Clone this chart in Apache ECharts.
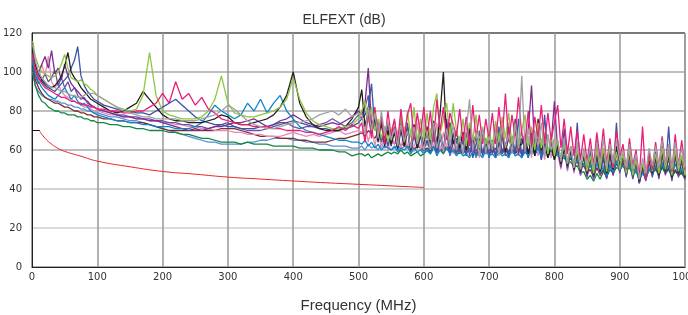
<!DOCTYPE html>
<html>
<head>
<meta charset="utf-8">
<script src="https://cdn.jsdelivr.net/npm/echarts@6/dist/echarts.min.js"></script>
<style>
  html, body { margin: 0; padding: 0; background: #fff; }
  #chart { width: 688px; height: 315px; }
</style>
</head>
<body>
<div id="chart"></div>
<script>
// 频率采样点 (MHz)
const freq = [
  1, 3, 5, 10, 15, 20, 25, 30, 35, 40, 45, 50, 55, 60, 65, 70, 75, 80, 85, 90, 95, 100,
  110, 120, 130, 140, 150, 160, 170, 180, 190, 200,
  210, 220, 230, 240, 250, 260, 270, 280, 290, 300,
  310, 320, 330, 340, 350, 360, 370, 380, 390, 400,
  410, 420, 430, 440, 450, 460, 470, 480, 490, 500,
  505, 510, 515, 520, 525, 530, 535, 540, 545, 550,
  555, 560, 565, 570, 575, 580, 585, 590, 595, 600,
  605, 610, 615, 620, 625, 630, 635, 640, 645, 650,
  655, 660, 665, 670, 675, 680, 685, 690, 695, 700,
  705, 710, 715, 720, 725, 730, 735, 740, 745, 750,
  755, 760, 765, 770, 775, 780, 785, 790, 795, 800,
  805, 810, 815, 820, 825, 830, 835, 840, 845, 850,
  855, 860, 865, 870, 875, 880, 885, 890, 895, 900,
  905, 910, 915, 920, 925, 930, 935, 940, 945, 950,
  955, 960, 965, 970, 975, 980, 985, 990, 995, 1000
];

const steelBlue = [
  100, 96, 93, 90, 88, 87, 86, 86, 85, 85, 84, 84, 83, 83, 82, 82, 81, 81, 80, 80, 79, 79,
  78, 77, 77, 76, 75, 75, 74, 73, 72, 71,
  70, 69, 68, 67, 66, 65, 64, 64, 63, 63,
  63, 63, 64, 64, 65, 65, 66, 66, 66, 65,
  65, 64, 64, 63, 63, 62, 62, 62, 61, 61,
  62, 60, 63, 61, 62, 60, 63, 61, 62, 60,
  61, 63, 60, 62, 61, 63, 60, 62, 61, 59,
  61, 60, 62, 59, 61, 60, 62, 60, 61, 59,
  60, 58, 61, 59, 60, 58, 61, 59, 60, 58,
  60, 58, 61, 59, 62, 58, 60, 59, 61, 58,
  60, 59, 61, 58, 60, 59, 61, 58, 59, 57,
  58, 56, 57, 55, 56, 53, 55, 52, 53, 50,
  52, 49, 53, 50, 52, 48, 53, 50, 55, 51,
  53, 50, 54, 48, 51, 46, 49, 47, 51, 49,
  52, 49, 54, 50, 52, 48, 53, 49, 51, 48
];
const darkGreen = [
  102, 97, 93, 88, 85, 84, 82, 81, 80, 80, 79, 79, 78, 78, 78, 77, 77, 76, 76, 75, 75, 74,
  74, 73, 73, 72, 72, 71, 71, 70, 70, 70,
  69, 69, 68, 68, 67, 66, 66, 65, 64, 64,
  64, 63, 64, 63, 63, 63, 62, 62, 62, 62,
  61, 61, 61, 60, 60, 60, 59, 59, 57, 58,
  58, 57, 58, 56, 57, 58, 57, 58, 59, 58,
  59, 58, 60, 58, 59, 57, 58, 59, 57, 58,
  60, 58, 61, 59, 60, 58, 61, 59, 60, 58,
  59, 60, 58, 61, 59, 60, 58, 60, 59, 58,
  60, 58, 61, 59, 60, 58, 61, 59, 60, 58,
  59, 60, 58, 61, 59, 60, 58, 59, 57, 58,
  57, 55, 56, 53, 54, 51, 52, 48, 49, 45,
  47, 44, 48, 45, 49, 46, 50, 48, 51, 50,
  52, 49, 51, 47, 49, 45, 48, 46, 50, 48,
  50, 47, 51, 48, 50, 46, 49, 47, 48, 45
];
const brown = [
  104, 100, 96, 92, 89, 87, 86, 85, 84, 84, 83, 82, 82, 81, 80, 80, 79, 79, 78, 78, 77, 77,
  76, 76, 75, 75, 74, 74, 74, 73, 72, 71,
  70, 70, 70, 70, 71, 70, 70, 70, 71, 71,
  71, 70, 69, 68, 67, 67, 67, 66, 66, 66,
  65, 65, 64, 64, 64, 65, 66, 66, 67, 68,
  69, 67, 70, 68, 66, 69, 65, 67, 64, 66,
  63, 65, 62, 64, 61, 63, 60, 62, 61, 60,
  61, 59, 62, 60, 61, 59, 62, 60, 61, 59,
  60, 58, 61, 59, 60, 58, 59, 60, 58, 60,
  59, 61, 58, 60, 62, 59, 61, 58, 60, 59,
  61, 59, 62, 60, 58, 61, 59, 60, 58, 57,
  58, 56, 57, 54, 56, 52, 54, 50, 52, 48,
  50, 46, 51, 47, 50, 46, 52, 48, 53, 50,
  53, 50, 52, 48, 50, 46, 49, 45, 50, 48,
  51, 47, 52, 48, 51, 46, 50, 47, 49, 46
];
const lightPink = [
  108, 104, 100, 96, 104, 98, 108, 95, 92, 94, 90, 88, 87, 86, 85, 84, 83, 82, 82, 81, 80, 80,
  79, 78, 78, 77, 77, 76, 76, 75, 75, 74,
  74, 73, 73, 72, 72, 71, 71, 70, 70, 70,
  69, 69, 68, 68, 68, 67, 67, 67, 68, 69,
  68, 67, 68, 67, 68, 69, 70, 68, 69, 70,
  69, 73, 64, 72, 62, 70, 61, 71, 60, 68,
  63, 70, 60, 72, 61, 69, 59, 74, 60, 68,
  62, 71, 60, 74, 59, 69, 61, 72, 58, 70,
  60, 68, 57, 71, 59, 67, 56, 70, 58, 66,
  59, 72, 57, 69, 60, 74, 58, 68, 57, 70,
  58, 67, 56, 70, 57, 66, 55, 68, 56, 65,
  58, 50, 62, 49, 60, 48, 58, 47, 57, 46,
  55, 45, 57, 47, 58, 46, 57, 48, 60, 49,
  56, 47, 58, 46, 54, 43, 52, 45, 56, 48,
  57, 46, 59, 48, 57, 45, 58, 47, 55, 45
];
const violet = [
  105, 101, 98, 94, 96, 99, 95, 97, 101, 93, 97, 92, 95, 90, 92, 88, 86, 87, 84, 83, 82, 81,
  80, 79, 78, 78, 77, 77, 76, 76, 75, 75,
  74, 74, 73, 73, 72, 72, 71, 72, 73, 74,
  72, 71, 70, 70, 70, 71, 72, 73, 74, 72,
  71, 72, 72, 73, 74, 76, 74, 72, 74, 78,
  76, 82, 88, 70, 78, 65, 75, 63, 74, 62,
  71, 60, 74, 62, 72, 59, 70, 63, 69, 61,
  69, 60, 72, 59, 70, 58, 73, 60, 69, 58,
  66, 58, 69, 57, 67, 56, 70, 58, 66, 57,
  65, 57, 68, 58, 64, 56, 67, 59, 66, 57,
  64, 56, 67, 57, 65, 55, 63, 56, 66, 55,
  60, 51, 62, 50, 59, 49, 58, 47, 57, 46,
  55, 45, 57, 47, 56, 45, 58, 47, 59, 48,
  56, 46, 57, 45, 53, 43, 50, 44, 54, 46,
  55, 45, 58, 47, 56, 44, 57, 46, 54, 45
];
const purple = [
  110, 106, 103, 100, 104, 108, 102, 111, 99, 102, 96, 104, 98, 94, 92, 90, 88, 86, 85, 83, 82, 81,
  80, 79, 78, 77, 77, 76, 76, 75, 75, 74,
  73, 72, 71, 70, 70, 70, 71, 72, 72, 73,
  74, 74, 75, 76, 74, 72, 73, 75, 76, 78,
  76, 74, 73, 72, 73, 74, 73, 75, 77, 80,
  78, 84, 102, 72, 78, 66, 76, 64, 73, 62,
  72, 61, 75, 63, 71, 60, 73, 62, 70, 61,
  71, 60, 74, 62, 69, 59, 76, 61, 68, 64,
  60, 69, 58, 71, 60, 67, 57, 70, 59, 66,
  58, 70, 60, 67, 57, 72, 59, 76, 58, 66,
  61, 70, 93, 60, 66, 57, 68, 58, 63, 85,
  60, 52, 64, 51, 61, 50, 59, 48, 58, 47,
  56, 46, 58, 48, 57, 46, 59, 47, 60, 49,
  55, 47, 58, 46, 54, 43, 51, 45, 55, 47,
  56, 46, 59, 48, 57, 45, 58, 47, 55, 45
];
const indigo = [
  108, 104, 101, 97, 95, 93, 92, 91, 90, 92, 94, 96, 98, 102, 106, 113, 98, 93, 90, 88, 86, 85,
  83, 82, 81, 80, 80, 79, 79, 78, 80, 82,
  84, 86, 83, 80, 77, 75, 74, 73, 73, 72,
  72, 71, 71, 71, 72, 72, 73, 74, 74, 75,
  74, 73, 72, 71, 71, 70, 70, 71, 72, 74,
  76, 78, 82, 94, 70, 75, 64, 72, 62, 69,
  71, 60, 70, 62, 74, 59, 68, 61, 67, 60,
  65, 59, 70, 58, 66, 60, 72, 57, 64, 66,
  58, 65, 57, 68, 56, 63, 66, 57, 64, 56,
  63, 56, 72, 58, 61, 57, 66, 58, 76, 56,
  62, 56, 69, 57, 64, 55, 78, 56, 63, 57,
  65, 53, 71, 52, 62, 50, 74, 49, 58, 48,
  60, 47, 65, 49, 57, 46, 61, 48, 74, 49,
  58, 47, 62, 46, 56, 43, 53, 45, 59, 48,
  59, 47, 62, 49, 72, 46, 60, 48, 57, 46
];
const skyBlue = [
  106, 102, 99, 95, 92, 90, 88, 87, 86, 88, 90, 92, 89, 86, 88, 85, 83, 84, 82, 80, 79, 78,
  77, 76, 75, 75, 74, 74, 73, 73, 72, 72,
  72, 71, 71, 71, 72, 74, 78, 83, 80, 78,
  76, 78, 84, 80, 86, 79, 84, 88, 80, 76,
  72, 70, 69, 68, 67, 66, 65, 65, 64, 64,
  63, 65, 62, 64, 61, 63, 60, 62, 61, 60,
  62, 59, 61, 60, 62, 58, 61, 59, 60, 58,
  60, 58, 62, 57, 60, 59, 61, 58, 60, 57,
  59, 57, 58, 56, 59, 57, 58, 56, 60, 57,
  58, 56, 59, 57, 58, 56, 60, 57, 58, 56,
  59, 57, 60, 58, 61, 57, 59, 58, 60, 57,
  58, 56, 57, 54, 56, 53, 55, 51, 53, 50,
  52, 48, 53, 49, 51, 47, 52, 49, 54, 50,
  52, 49, 53, 47, 50, 45, 48, 46, 50, 48,
  52, 48, 53, 49, 52, 47, 53, 48, 50, 47
];
const black = [
  112, 108, 104, 99, 96, 94, 93, 92, 93, 95, 98, 103, 110, 100, 97, 95, 92, 90, 88, 86, 85, 84,
  82, 80, 79, 80, 82, 84, 90, 86, 82, 78,
  76, 75, 75, 74, 74, 74, 75, 76, 78, 77,
  74, 73, 73, 74, 75, 76, 78, 82, 88, 100,
  84, 77, 73, 71, 70, 70, 70, 72, 76, 82,
  91, 72, 80, 68, 76, 64, 74, 62, 70, 63,
  69, 61, 72, 62, 70, 60, 73, 61, 68, 62,
  72, 63, 75, 62, 79, 100, 66, 74, 63, 70,
  61, 69, 60, 71, 62, 68, 59, 70, 61, 66,
  60, 69, 61, 72, 59, 67, 60, 74, 62, 63,
  68, 58, 66, 57, 76, 60, 64, 56, 62, 55,
  63, 53, 61, 52, 60, 50, 59, 49, 58, 48,
  57, 47, 58, 49, 60, 48, 59, 50, 62, 50,
  57, 48, 59, 47, 55, 44, 52, 46, 56, 48,
  57, 47, 60, 49, 58, 46, 59, 48, 56, 46
];
const green = [
  116, 112, 108, 103, 100, 99, 98, 97, 98, 100, 104, 109, 102, 97, 96, 95, 96, 94, 93, 91, 90, 88,
  86, 84, 82, 81, 80, 81, 88, 110, 88, 80,
  78, 77, 76, 76, 76, 77, 80, 86, 98, 84,
  79, 78, 77, 77, 78, 79, 80, 82, 86, 97,
  86, 79, 75, 73, 72, 71, 71, 72, 73, 76,
  80, 85, 74, 82, 70, 76, 66, 72, 64, 70,
  75, 63, 78, 65, 80, 67, 82, 64, 76, 66,
  79, 65, 82, 89, 68, 76, 84, 66, 84, 70,
  64, 76, 62, 74, 65, 78, 61, 72, 63, 70,
  62, 75, 64, 77, 66, 79, 63, 74, 61, 70,
  78, 62, 72, 60, 74, 61, 69, 58, 67, 57,
  65, 55, 63, 53, 62, 51, 60, 50, 59, 49,
  57, 48, 60, 50, 61, 49, 62, 51, 59, 50,
  58, 48, 60, 47, 55, 45, 53, 46, 57, 49,
  58, 48, 61, 50, 59, 47, 60, 49, 57, 47
];
const pink = [
  109, 105, 101, 97, 94, 92, 91, 90, 89, 88, 87, 87, 86, 85, 85, 84, 84, 83, 83, 82, 82, 81,
  81, 80, 80, 79, 79, 80, 80, 82, 84, 89,
  84, 95, 86, 89, 83, 87, 81, 79, 76, 75,
  74, 73, 73, 72, 72, 72, 71, 71, 70, 70,
  70, 69, 69, 68, 69, 70, 72, 70, 73, 71,
  74, 64, 79, 66, 82, 68, 77, 63, 80, 67,
  76, 64, 81, 66, 78, 84, 65, 79, 68, 82,
  66, 80, 64, 86, 70, 82, 65, 79, 73, 67,
  81, 64, 77, 62, 83, 66, 78, 63, 76, 65,
  79, 63, 82, 66, 89, 64, 78, 67, 87, 68,
  64, 80, 62, 77, 66, 83, 63, 79, 65, 74,
  83, 61, 76, 58, 72, 57, 70, 55, 68, 54,
  66, 52, 69, 55, 71, 53, 66, 51, 70, 56,
  63, 50, 66, 52, 60, 46, 72, 45, 58, 50,
  64, 51, 67, 53, 62, 49, 68, 52, 65, 50
];
const gray = [
  114, 110, 106, 100, 97, 95, 93, 92, 92, 91, 90, 90, 89, 88, 88, 87, 87, 88, 89, 89, 89, 88,
  86, 84, 82, 80, 79, 78, 77, 77, 76, 76,
  76, 76, 75, 75, 75, 76, 77, 78, 80, 83,
  81, 78, 75, 73, 72, 71, 71, 72, 73, 74,
  74, 75, 76, 78, 79, 80, 78, 81, 77, 79,
  78, 68, 82, 70, 79, 66, 80, 68, 75, 65,
  71, 62, 73, 64, 70, 61, 72, 63, 69, 60,
  70, 60, 74, 61, 68, 59, 71, 62, 73, 60,
  67, 58, 70, 86, 60, 69, 57, 71, 59, 67,
  60, 70, 58, 72, 61, 68, 59, 73, 62, 98,
  60, 71, 58, 69, 62, 74, 57, 68, 60, 66,
  64, 54, 66, 53, 62, 51, 64, 50, 61, 52,
  62, 50, 64, 52, 66, 51, 63, 53, 65, 55,
  60, 51, 63, 50, 58, 45, 56, 48, 61, 52,
  62, 51, 65, 53, 63, 50, 64, 52, 61, 51
];

// 限值线
const limitFreq = [12, 20, 30, 40, 50, 75, 100, 150, 200, 250, 300, 350, 400, 450, 500, 550, 600];
const limitVal = [69.5, 66, 63, 60.8, 59.3, 56.8, 54.3, 51.4, 49, 47.6, 46.1, 45.1, 44.1, 43.2, 42.4, 41.6, 40.8];
const startFreq = [0, 12];
const startVal = [70, 70];

const curves = [
  { name: 'steelBlue', data: steelBlue, color: '#5b8ed6' },
  { name: 'darkGreen', data: darkGreen, color: '#138744' },
  { name: 'brown', data: brown, color: '#7b2d2d' },
  { name: 'lightPink', data: lightPink, color: '#e58bb6' },
  { name: 'violet', data: violet, color: '#6b52a3' },
  { name: 'purple', data: purple, color: '#7b2e8e' },
  { name: 'indigo', data: indigo, color: '#3a53a4' },
  { name: 'skyBlue', data: skyBlue, color: '#0e87c9' },
  { name: 'black', data: black, color: '#231f20' },
  { name: 'green', data: green, color: '#8dc63f' },
  { name: 'pink', data: pink, color: '#ec1c7a' },
  { name: 'gray', data: gray, color: '#a0a0a0' }
];

curves.forEach(c => {
  if (c.data.length !== freq.length) {
    throw new Error(c.name + ' length ' + c.data.length + ' != ' + freq.length);
  }
});

const series = curves.map(c => ({
  name: c.name,
  type: 'line',
  showSymbol: false,
  data: freq.map((f, i) => [f, c.data[i]]),
  lineStyle: { width: 1.3, color: c.color },
  itemStyle: { color: c.color }
}));

series.push({
  name: 'limit',
  type: 'line',
  showSymbol: false,
  smooth: true,
  data: limitFreq.map((f, i) => [f, limitVal[i]]),
  lineStyle: { width: 1, color: '#ee2222' }
});
series.push({
  name: 'limitStart',
  type: 'line',
  showSymbol: false,
  data: startFreq.map((f, i) => [f, startVal[i]]),
  lineStyle: { width: 1, color: '#111' }
});

const chart = echarts.init(document.getElementById('chart'), null, { renderer: 'canvas' });
chart.setOption({
  animation: false,
  backgroundColor: '#fff',
  title: {
    text: 'ELFEXT (dB)',
    left: 'center',
    top: 8,
    textStyle: { fontFamily: 'Liberation Sans', fontSize: 14, fontWeight: 'normal', color: '#333' }
  },
  grid: {
    left: 32, right: 3, top: 33, bottom: 48,
    outerBoundsMode: 'none',
    show: true, borderColor: '#666', borderWidth: 1
  },
  xAxis: {
    type: 'value',
    min: 0, max: 1000, interval: 100,
    name: 'Frequency (MHz)',
    nameLocation: 'middle',
    nameGap: 31,
    nameTextStyle: { fontFamily: 'Liberation Sans', fontSize: 15, color: '#333' },
    axisLine: { lineStyle: { color: '#222', width: 1 } },
    axisTick: { show: false },
    axisLabel: {
      fontFamily: 'DejaVu Sans', fontSize: 10, color: '#333', margin: 5,
      formatter: v => String(v)
    },
    splitLine: { lineStyle: { color: '#999', width: 1.5 } }
  },
  yAxis: {
    type: 'value',
    min: 0, max: 120, interval: 20,
    axisLine: { show: true, lineStyle: { color: '#222', width: 1 } },
    axisTick: { show: false },
    axisLabel: { fontFamily: 'DejaVu Sans', fontSize: 10, color: '#333', margin: 10 },
    // 20 和 40 的网格线颜色较浅
    splitLine: { lineStyle: { color: ['#aaa', '#cfcfcf', '#c4c4c4', '#aaa', '#aaa', '#aaa', '#666'], width: 1.5 } }
  },
  series: series
});
</script>
</body>
</html>
